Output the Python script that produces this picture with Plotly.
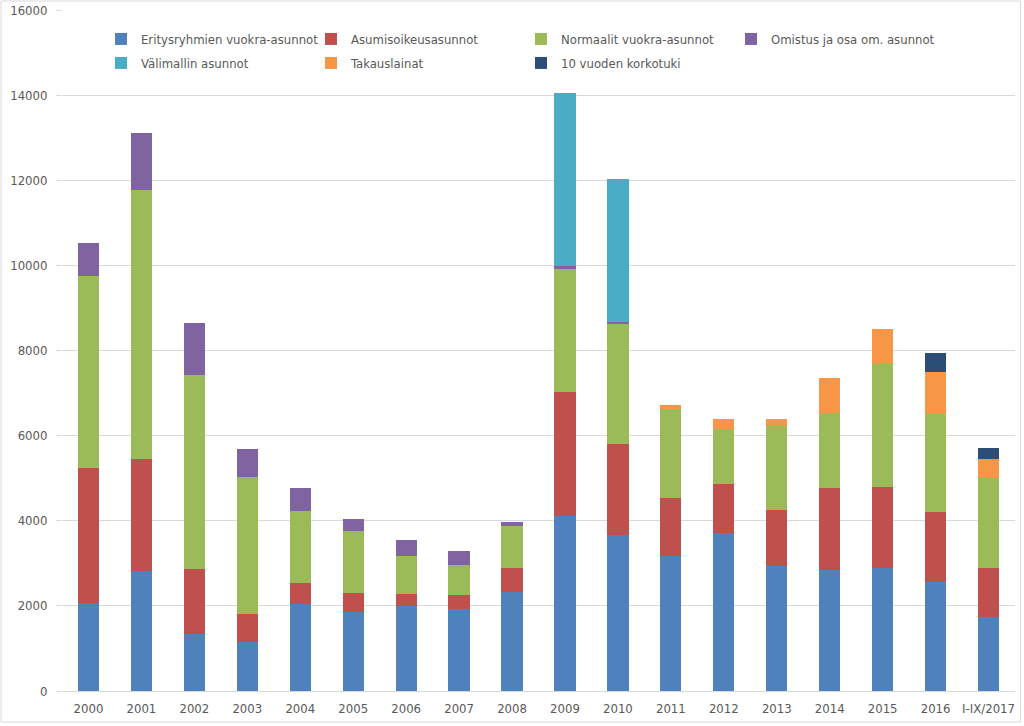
import plotly.graph_objects as go

years = ["2000", "2001", "2002", "2003", "2004", "2005", "2006", "2007", "2008",
         "2009", "2010", "2011", "2012", "2013", "2014", "2015", "2016", "I-IX/2017"]

erityis = [2060, 2820, 1350, 1150, 2045, 1865, 2000, 1925, 2335, 4120, 3665, 3180, 3705, 2945, 2845, 2900, 2570, 1730]
asumis = [3190, 2640, 1520, 660, 500, 430, 290, 330, 565, 2915, 2130, 1365, 1165, 1300, 1925, 1895, 1645, 1160]
normaalit = [4500, 6310, 4560, 3210, 1685, 1465, 885, 700, 985, 2870, 2840, 2090, 1280, 1990, 1770, 2890, 2290, 2120]
omistus = [770, 1340, 1215, 660, 535, 280, 375, 330, 85, 85, 30, 0, 0, 0, 0, 0, 0, 0]
valimallin = [0, 0, 0, 0, 0, 0, 0, 0, 0, 4065, 3360, 0, 0, 0, 0, 0, 0, 0]
takaus = [0, 0, 0, 0, 0, 0, 0, 0, 0, 0, 0, 80, 245, 155, 815, 830, 980, 445]
korkotuki = [0, 0, 0, 0, 0, 0, 0, 0, 0, 0, 0, 0, 0, 0, 0, 0, 445, 260]

series = [
    ("Eritysryhmien vuokra-asunnot", erityis, "#4F81BD", "legend"),
    ("Asumisoikeusasunnot", asumis, "#C0504D", "legend"),
    ("Normaalit vuokra-asunnot", normaalit, "#9BBB59", "legend"),
    ("Omistus ja osa om. asunnot", omistus, "#8064A2", "legend"),
    ("Välimallin asunnot", valimallin, "#4BACC6", "legend2"),
    ("Takauslainat", takaus, "#F79646", "legend2"),
    ("10 vuoden korkotuki", korkotuki, "#2C4D75", "legend2"),
]

FONT = "Liberation Sans Narrow, DejaVu Sans Condensed, Liberation Sans, Arial, sans-serif"

L, R, T, B = 62, 8.5, 10, 35
PW = 1024 - L - R
PH = 726 - T - B

fig = go.Figure()
for name, vals, col, lg in series:
    fig.add_trace(go.Bar(x=years, y=vals, name=name, legend=lg,
                         marker=dict(color=col, line=dict(width=0))))

leg_common = dict(orientation="h", xanchor="left", yanchor="top",
                  entrywidth=165, entrywidthmode="pixels", itemwidth=30,
                  font=dict(family=FONT, size=13, color="#595959"),
                  bgcolor="rgba(0,0,0,0)", traceorder="normal")

fig.update_layout(
    barmode="stack",
    bargap=0.6,
    width=1024, height=726,
    margin=dict(l=L, r=R, t=T, b=B, autoexpand=False),
    paper_bgcolor="white", plot_bgcolor="white",
    font=dict(family=FONT, size=13, color="#595959"),
    legend=dict(x=(101 - L) / PW, y=1 - (24 - T) / PH, **leg_common),
    legend2=dict(x=(101 - L) / PW, y=1 - (48 - T) / PH, **leg_common),
    xaxis=dict(showgrid=False, showline=True, linecolor="#D9D9D9", linewidth=1,
               ticks="", automargin=False, ticklabelstandoff=5,
               tickfont=dict(size=13, color="#595959")),
    yaxis=dict(range=[0, 16000], dtick=2000, showgrid=True, gridcolor="#D9D9D9",
               gridwidth=1, zeroline=False, ticks="outside", ticklen=5, tickcolor="#D9D9D9",
               ticklabelstandoff=6, automargin=False,
               tickformat="d", tickfont=dict(size=13, color="#595959")),
    shapes=[dict(type="rect", xref="paper", yref="paper",
                 x0=-(L - 1) / PW, x1=1 + (R - 3) / PW, y0=-(B - 4) / PH, y1=1 + (T - 1) / PH,
                 line=dict(color="#D9D9D9", width=1))],
)

fig.write_html("out.html", config={"displayModeBar": False},
               post_script="document.body.style.margin='0';")
